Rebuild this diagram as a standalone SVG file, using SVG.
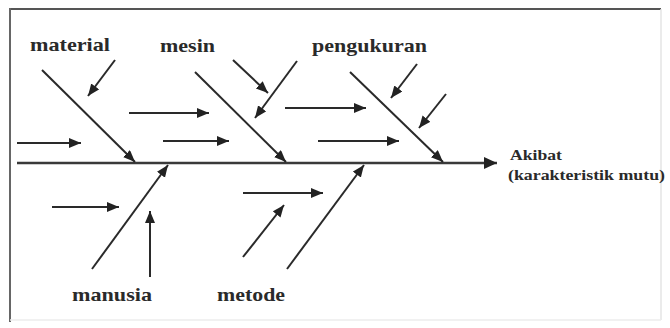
<svg xmlns="http://www.w3.org/2000/svg" width="670" height="328" viewBox="0 0 670 328">
<style>
.ln{stroke:#2a2a2a;stroke-width:2;fill:none;marker-end:url(#ah)}
.sp{stroke:#3a3a3a;stroke-width:2.6;fill:none;marker-end:url(#ahb)}
.lb{font-family:'Liberation Serif','DejaVu Serif','Times New Roman',serif;font-weight:700;font-size:19px;fill:#2a2a2a}
.sm{font-family:'Liberation Serif','DejaVu Serif','Times New Roman',serif;font-weight:700;font-size:14px;fill:#2a2a2a}
</style>
<defs>
<marker id="ah" markerUnits="userSpaceOnUse" markerWidth="14" markerHeight="12" refX="12" refY="5" orient="auto">
<path d="M0,0 L12,5 L0,10 Z" fill="#222"/>
</marker>
<marker id="ahb" markerUnits="userSpaceOnUse" markerWidth="16" markerHeight="14" refX="13" refY="6" orient="auto">
<path d="M0,0 L13,6 L0,12 Z" fill="#222"/>
</marker>
</defs>
<rect x="0" y="0" width="670" height="328" fill="#fff"/>
<g id="frame">
<line x1="9" y1="9" x2="661" y2="9" stroke="#555" stroke-width="2"/>
<line x1="10" y1="8" x2="10" y2="322" stroke="#666" stroke-width="2"/>
<line x1="661" y1="9" x2="661" y2="320" stroke="#e4e4e4" stroke-width="1.5"/>
<line x1="10" y1="320" x2="661" y2="320" stroke="#ececec" stroke-width="1.5"/>
</g>
<g id="connectors">
<line class="sp" x1="17" y1="163" x2="497" y2="163"/>
<line class="ln" x1="42" y1="70" x2="135" y2="162"/>
<line class="ln" x1="195" y1="72" x2="286" y2="162"/>
<line class="ln" x1="350" y1="72" x2="443" y2="162"/>
<line class="ln" x1="92" y1="269" x2="168" y2="165"/>
<line class="ln" x1="287" y1="269" x2="364" y2="165"/>
<line class="ln" x1="17" y1="143" x2="81" y2="143"/>
<line class="ln" x1="115" y1="60" x2="88" y2="96"/>
<line class="ln" x1="129" y1="113" x2="209" y2="113"/>
<line class="ln" x1="163" y1="141" x2="229" y2="141"/>
<line class="ln" x1="233" y1="60" x2="268" y2="93"/>
<line class="ln" x1="297" y1="61" x2="255" y2="118"/>
<line class="ln" x1="285" y1="108" x2="366" y2="108"/>
<line class="ln" x1="318" y1="141" x2="399" y2="141"/>
<line class="ln" x1="417" y1="64" x2="391" y2="98"/>
<line class="ln" x1="446" y1="94" x2="419" y2="128"/>
<line class="ln" x1="52" y1="207" x2="119" y2="207"/>
<line class="ln" x1="150" y1="277" x2="150" y2="211"/>
<line class="ln" x1="243" y1="193" x2="323" y2="193"/>
<line class="ln" x1="243" y1="257" x2="284" y2="205"/>
</g>
<g id="material"><text class="lb" x="30" y="51" textLength="80" lengthAdjust="spacingAndGlyphs">material</text></g>
<g id="mesin"><text class="lb" x="160" y="52" textLength="55" lengthAdjust="spacingAndGlyphs">mesin</text></g>
<g id="pengukuran"><text class="lb" x="312" y="52" textLength="115" lengthAdjust="spacingAndGlyphs">pengukuran</text></g>
<g id="manusia"><text class="lb" x="72" y="301" textLength="80" lengthAdjust="spacingAndGlyphs">manusia</text></g>
<g id="metode"><text class="lb" x="217" y="301" textLength="68" lengthAdjust="spacingAndGlyphs">metode</text></g>
<g id="akibat">
<text class="sm" x="510" y="160" textLength="52" lengthAdjust="spacingAndGlyphs">Akibat</text>
<text class="sm" x="508" y="180" textLength="157" lengthAdjust="spacingAndGlyphs">(karakteristik mutu)</text>
</g>
</svg>
